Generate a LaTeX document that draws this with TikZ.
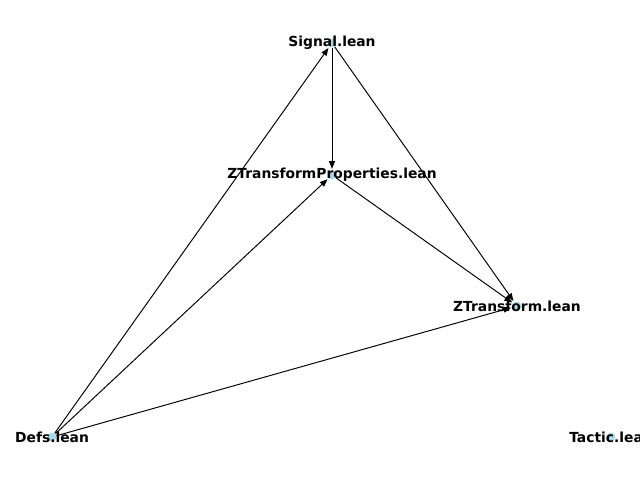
\documentclass[tikz,border=0pt]{standalone}
\usepackage{fontspec}
\setmainfont{DejaVu Sans}
\usetikzlibrary{arrows.meta}
\definecolor{dotblue}{RGB}{173,216,230}
\tikzset{
  dot/.style={circle,inner sep=0pt,minimum size=6.5pt,fill=dotblue},
  lbl/.style={font=\fontsize{10}{12}\selectfont\bfseries,inner sep=0pt},
  edge/.style={-{Triangle[length=5.5pt,width=4.3pt]},line width=0.7pt,shorten >=1pt}
}
\begin{document}
\begin{tikzpicture}[x=0.01in,y=-0.01in]
		\useasboundingbox (0,0) rectangle (640,480);
		\node[dot] (sig) at (332,43) {};
		\node[dot] (ztp) at (332,175) {};
		\node[dot] (zt) at (517,306) {};
		\node[dot] (defs) at (52,437) {};
		\node[dot] (tac) at (611,437) {};
		\draw[edge] (sig) -- (ztp);
		\draw[edge] (sig) -- (zt);
		\draw[edge] (ztp) -- (zt);
		\draw[edge] (defs) -- (sig);
		\draw[edge] (defs) -- (ztp);
		\draw[edge] (defs) -- (zt);
		\node[lbl] at (sig) {Signal.lean};
		\node[lbl] at (ztp) {ZTransformProperties.lean};
		\node[lbl] at (zt) {ZTransform.lean};
		\node[lbl] at (defs) {Defs.lean};
		\node[lbl] at (tac) {Tactic.lean};
	\end{tikzpicture}
\end{document}
